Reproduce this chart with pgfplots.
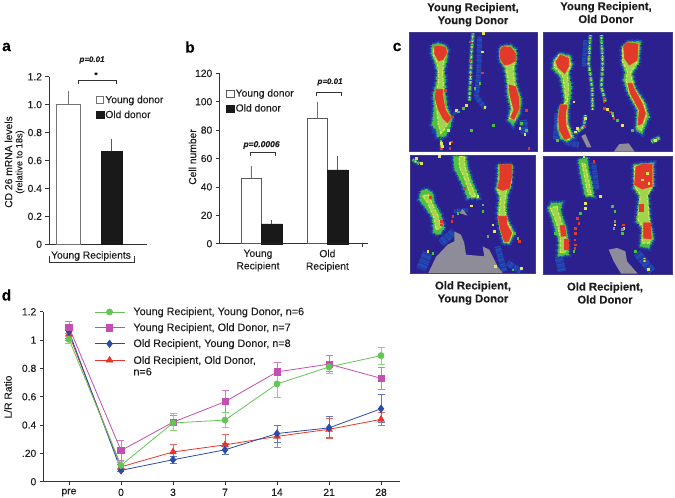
\documentclass[border=0pt]{standalone}
\usepackage{pgfplots}
\usepackage{pgfplotstable}
\pgfplotsset{compat=1.18}
\usepackage{fontspec}
\setmainfont{Liberation Sans}[FakeBold=0.2]
\definecolor{axc}{HTML}{333333}
\definecolor{txt}{HTML}{1E1E1E}
\definecolor{bg}{HTML}{2C1F8E}
\definecolor{blu}{HTML}{1F50B8}
\definecolor{grn}{HTML}{4CC040}
\definecolor{yel}{HTML}{E2E45A}
\definecolor{hot}{HTML}{E23A2A}
\definecolor{gry}{HTML}{8E8C98}
\definecolor{cg}{HTML}{63C654}
\definecolor{cp}{HTML}{C24FB2}
\definecolor{cb}{HTML}{2A4BA8}
\definecolor{cr}{HTML}{E8352B}
\pgfplotstableread{
x y p m
0 1.005 0.03 0.03
1 0.115 0.03 0.03
2 0.415 0.065 0.055
3 0.435 0.055 0.055
4 0.69 0.09 0.095
5 0.81 0.04 0.045
6 0.89 0.06 0.06
}\tg
\pgfplotstableread{
x y p m
0 1.09 0.045 0.045
1 0.22 0.07 0.07
2 0.42 0.05 0.06
3 0.565 0.08 0.075
4 0.775 0.07 0.075
5 0.83 0.065 0.05
6 0.73 0.075 0.08
}\tp
\pgfplotstableread{
x y p m
0 1.06 0.05 0.05
1 0.08 0.06 0.01
2 0.155 0.025 0.025
3 0.225 0.045 0.035
4 0.34 0.06 0.06
5 0.38 0.08 0.07
6 0.515 0.10 0.095
}\tb
\pgfplotstableread{
x y p m
0 1.04 0.04 0.04
1 0.105 0.015 0.015
2 0.21 0.055 0.05
3 0.26 0.075 0.07
4 0.32 0.08 0.08
5 0.37 0.075 0.065
6 0.44 0.05 0.04
}\tr
\pgfplotsset{
 common/.style={scale only axis, axis x line=bottom, axis y line=left,
  axis line style={-,axc,line width=0.7pt}, tick style={axc,line width=0.6pt},
  major tick length=3.5pt, tick align=outside,
  tick label style={font=\fontsize{10.3}{12.5}\selectfont,text=txt},
  clip=false},
 heat/.style={scale only axis, ticks=none, y dir=reverse,
  axis line style={draw=bg!70!gray,line width=0.5pt},
  axis background/.style={fill=bg}, xlabel={}, ylabel={}},
 barleg/.style={legend cell align=left,
  legend style={draw=none,fill=none,font=\fontsize{10.3}{12}\selectfont,row sep=3.5pt,inner sep=0pt,
   nodes={text=txt,inner sep=1.2pt}},
  legend image code/.code={\draw[##1,bar width=0pt] (0pt,-3.5pt) rectangle (7.5pt,3.5pt);}},
 dleg/.style={legend image code/.code={\draw[mark repeat=2,mark phase=2,##1] plot coordinates {(0pt,0pt) (15pt,0pt) (30pt,0pt)};}},
}
\tikzset{
 dA/.style={dash pattern=on 1.1pt off 0.7pt on 2.4pt off 1.3pt on 0.8pt off 0.5pt on 1.7pt off 2.1pt},
 dB/.style={dash pattern=on 2.2pt off 0.6pt on 1.2pt off 0.4pt on 3.1pt off 0.9pt},
 dC/.style={dash pattern=on 0.9pt off 1.6pt on 1.8pt off 0.7pt on 0.6pt off 2.2pt on 1.3pt off 1pt},
}
\newcommand\ser[4]{%
 \addplot[#2,line width=0.8pt,mark=#3,mark size=#4,mark options={fill=#2,solid},
  error bars/.cd,y dir=both,y explicit,error bar style={#2!75!white,line width=0.8pt},
  error mark options={#2!75!white,mark size=3.5pt,line width=0.8pt,rotate=90}]
  table[x=x,y=y,y error plus=p,y error minus=m] {#1};}
% one stroke: colour, width (px), dash style, centre-line
\newcommand\lay[4]{\addplot[#1,line width=#2pt,#3,line join=round] coordinates {#4};}
\newcommand\W[2]{\the\numexpr#1+#2\relax}
% outlines: green region with its blue halo, yellow core, red core
\newcommand\Out[1]{%
 \addplot[draw=blu!60!bg,line width=6pt,dC] coordinates {#1} --cycle;
 \addplot[draw=blu,line width=3.5pt,dA] coordinates {#1} --cycle;
 \addplot[fill=grn,draw=grn,line width=1.4pt,dC] coordinates {#1} --cycle;}
\newcommand\In[1]{%
 \addplot[fill=yel!55!grn,draw=yel,line width=1.2pt,dA] coordinates {#1} --cycle;}
\newcommand\Red[1]{%
 \addplot[draw=yel!55!hot,line width=1.4pt,dB] coordinates {#1} --cycle;
 \addplot[fill=hot,draw=hot,line width=0.6pt] coordinates {#1} --cycle;}
\newcommand\Cool[2]{%
 \lay{blu!70!bg}{\W{#1}{3}}{dB}{#2}\lay{grn}{\W{#1}{1}}{dA}{#2}\lay{yel}{1}{dC}{#2}}
\newcommand\Blue[2]{\lay{blu!45!bg}{#1}{solid}{#2}\lay{blu}{#1}{dC}{#2}}
\newcommand\Spk[2]{\addplot[only marks,mark=square*,mark size=0.8pt,mark options={#1,draw=#1}] coordinates {#2};}
\newcommand\Grey[1]{\addplot[fill=gry,draw=none] coordinates {#1} --cycle;}
\newcommand\hh[1]{\fontsize{#1}{#1}\selectfont}
\begin{document}
\begin{tikzpicture}
\useasboundingbox (0,0) rectangle (675pt,-498pt);
% ---- a
\begin{axis}[common,at={(49pt,-244.3pt)},anchor=south west,width=98pt,height=167.6pt,
 xmin=-0.441,xmax=1.81,ymin=0,ymax=1.2,xtick=\empty,ytick={0,0.2,0.4,0.6,0.8,1,1.2},
 yticklabels={0,0.2,0.4,0.6,0.8,1.0,1.2},barleg,
 legend style={at={(0.475,0.895)},anchor=north west}]
\addplot[ybar,bar width=24pt,bar shift=0pt,fill=white,draw=gray!90!black,line width=0.9pt,
 error bars/.cd,y dir=plus,y explicit,error mark=none,error bar style={gray!90!black,line width=0.9pt}]
 coordinates {(0,1.0) +- (0,0.1)};
\addlegendentry{Young donor}
\addplot[ybar,bar width=21pt,bar shift=0pt,fill=black!90,draw=black!90,
 error bars/.cd,y dir=plus,y explicit,error mark=none,error bar style={black!65,line width=0.8pt}]
 coordinates {(1,0.67) +- (0,0.085)};
\addlegendentry{Old donor}
\end{axis}
% ---- b
\begin{axis}[common,at={(219.3pt,-243.7pt)},anchor=south west,width=148.4pt,height=170.4pt,
 xmin=-0.635,xmax=1.61,ymin=0,ymax=120,xtick={-0.05,1},
 xticklabels={Young\\Recipient,Old\\Recipient},x tick label style={align=center,yshift=1pt},
 x tick style={draw=none},ytick={0,20,40,60,80,100,120},
 yticklabels={0,20,40,60,80,100,120},barleg,
 legend style={at={(0.045,0.915)},anchor=north west}]
\addplot[ybar,bar width=20pt,bar shift=0pt,fill=white,draw=gray!70!black,line width=0.8pt,
 error bars/.cd,y dir=plus,y explicit,error mark=none,error bar style={gray!90!black,line width=0.8pt}]
 coordinates {(-0.156,46) +- (0,9) (0.844,88) +- (0,12)};
\addlegendentry{Young donor}
\addplot[ybar,bar width=21pt,bar shift=0pt,fill=black!90,draw=black!90,
 error bars/.cd,y dir=plus,y explicit,error mark=none,error bar style={black!65,line width=0.7pt}]
 coordinates {(0.156,14) +- (0,3) (1.156,52) +- (0,10)};
\addlegendentry{Old donor}
\end{axis}
\draw[axc,line width=0.6pt] (362.7pt,-243.7pt) -- (362.7pt,-247pt);
% ---- d
\begin{axis}[common,dleg,at={(43.3pt,-481.7pt)},anchor=south west,width=356.7pt,height=170pt,
 xmin=-0.494,xmax=6.365,ymin=0,ymax=1.2,xtick={0,...,6},xticklabels={pre,0,3,7,14,21,28},
 ytick={0,0.2,0.4,0.6,0.8,1,1.2},yticklabels={0,.20,0.4,0.6,0.8,1,1.2},
 reverse legend,legend cell align=left,
 legend style={draw=none,fill=none,at={(0.142,1.03)},anchor=north west,font=\fontsize{10.8}{12.5}\selectfont,
  row sep=5.6pt,inner sep=0pt,nodes={text=txt,inner sep=0.5pt},
  /tikz/every odd column/.append style={column sep=8pt}}]
\ser{\tr}{cr}{triangle*}{3.7pt}
\addlegendentry{\begin{tabular}[t]{@{}l@{}}Old Recipient, Old Donor,\\[-1pt]n=6\end{tabular}}
\ser{\tb}{cb}{diamond*}{3.6pt}
\addlegendentry{Old Recipient, Young Donor, n=8}
\ser{\tp}{cp}{square*}{3.1pt}
\addlegendentry{Young Recipient, Old Donor, n=7}
\ser{\tg}{cg}{*}{3pt}
\addlegendentry{Young Recipient, Young Donor, n=6}
\end{axis}
% ---- c1
\begin{axis}[heat,at={(409.7pt,-32.7pt)},anchor=north west,width=127.7pt,height=119pt,xmin=5,xmax=388,ymin=8,ymax=365]
\Blue{5}{(215,20)(212,130)(205,200)(232,235)}
\Blue{3}{(150,240)(135,255)}
\Blue{8}{(345,270)(350,310)}
\Blue{6}{(85,270)(80,310)}
\Cool{2}{(195,10)(190,70)(187,150)(184,212)}
\Cool{1}{(100,325)(100,360)}
\Out{(72,45)(70,70)(80,95)(88,125)(85,160)(75,195)(78,230)(75,265)(72,285)(85,300)(88,320)(110,320)(125,295)(132,265)(118,235)(112,190)(112,150)(108,120)(115,95)(120,60)(110,45)(90,40)}
\In{(76,55)(76,75)(88,100)(92,130)(90,165)(82,190)(84,225)(88,255)(90,280)(98,310)(108,300)(122,275)(122,255)(108,225)(106,170)(104,125)(108,90)(116,65)(105,48)}
\Red{(80,50)(80,72)(92,92)(105,88)(116,68)(112,52)(95,48)}
\Red{(84,178)(82,205)(90,235)(105,265)(118,278)(128,265)(112,240)(105,205)(104,178)}
\Out{(275,55)(275,90)(290,115)(297,160)(298,195)(308,235)(300,270)(315,285)(335,250)(340,210)(325,165)(320,110)(325,95)(325,60)(305,45)(285,48)}
\In{(278,60)(278,88)(294,110)(300,155)(303,190)(312,235)(305,265)(320,270)(332,235)(332,205)(320,165)(315,115)(320,95)(320,62)(300,50)}
\Red{(276,60)(276,85)(290,105)(305,102)(322,92)(322,70)(308,52)(285,50)}
\Red{(303,165)(306,195)(318,240)(308,262)(318,268)(333,235)(332,205)(322,170)}
\Spk{hot}{(185,35)(185,90)(222,128)(100,355)(125,355)(130,335)(132,260)(355,240)(362,355)(112,180)}
\Spk{yel}{(225,10)(222,65)(230,232)(175,225)(335,295)(350,312)(120,300)(125,340)(145,240)(100,340)(103,348)}
\Spk{grn}{(150,245)(255,285)(190,300)(215,160)(200,175)(340,280)(355,300)(165,235)}
\end{axis}
% ---- c2
\begin{axis}[heat,at={(543.7pt,-32.7pt)},anchor=north west,width=129pt,height=119pt,xmin=5,xmax=392,ymin=8,ymax=365]
\Blue{6}{(70,335)(110,345)}
\Blue{4}{(130,30)(125,110)}
\Blue{5}{(45,250)(40,330)}
\Cool{2}{(145,15)(140,100)(150,170)(152,240)}
\Cool{2}{(178,15)(182,100)(178,170)(190,215)}
\Out{(35,90)(32,115)(55,140)(62,175)(68,215)(50,240)(45,290)(55,325)(75,335)(95,322)(78,280)(78,240)(85,205)(88,170)(80,130)(90,105)(85,78)(55,70)}
\In{(38,95)(38,112)(62,138)(68,180)(72,215)(54,240)(50,290)(60,320)(80,328)(88,318)(74,280)(74,235)(80,180)(76,130)(86,105)(80,82)(50,75)}
\Red{(42,95)(48,112)(68,130)(80,108)(80,85)(55,75)}
\Red{(55,225)(50,260)(52,300)(68,328)(85,322)(72,290)(70,250)(75,225)}
\Out{(240,50)(240,100)(250,125)(245,150)(258,190)(285,240)(282,300)(300,310)(320,260)(310,220)(280,175)(270,130)(290,100)(295,35)(260,35)}
\In{(242,55)(242,95)(256,125)(252,150)(262,190)(290,240)(286,295)(298,300)(314,255)(305,220)(276,175)(265,130)(285,98)(290,40)(262,40)}
\Red{(245,50)(248,85)(262,105)(285,90)(288,42)(255,38)}
\Red{(258,160)(265,190)(292,240)(288,285)(300,280)(310,250)(300,220)(275,175)(270,160)}
\Cool{2}{(130,255)(125,290)(100,310)}
\Cool{3}{(328,335)(355,322)}
\Grey{(215,365)(232,342)(260,340)(278,365)}
\Grey{(118,318)(130,312)(140,335)(148,352)(135,352)}
\Spk{hot}{(185,205)(187,235)(205,245)(215,265)(128,290)(100,308)(185,215)}
\Spk{yel}{(95,215)(195,238)(212,255)(240,285)(130,265)(105,295)(100,305)(340,330)}
\Spk{grn}{(225,270)(210,250)(320,260)(270,300)(45,330)}
\end{axis}
% ---- c3
\begin{axis}[heat,at={(410.3pt,-155.7pt)},anchor=north west,width=125.3pt,height=117.3pt,xmin=8,xmax=384,ymin=8,ymax=360]
\Blue{10}{(60,300)(40,350)}
\Blue{8}{(100,270)(140,235)}
\Blue{6}{(270,280)(290,355)}
\Blue{6}{(300,330)(340,355)}
\Blue{5}{(170,320)(230,325)}
\Blue{4}{(140,175)(180,170)}
\Grey{(62,360)(85,312)(120,275)(140,265)(140,235)(160,245)(170,270)(175,305)(230,310)(225,280)(245,290)(270,340)(285,360)}
\Grey{(155,180)(165,168)(180,188)}
\Out{(272,35)(270,85)(265,110)(275,130)(270,180)(275,220)(288,270)(305,272)(320,240)(300,200)(295,170)(300,125)(310,100)(315,35)}
\In{(275,38)(274,95)(270,110)(280,130)(274,180)(280,220)(290,265)(303,268)(315,240)(296,200)(290,160)(296,115)(312,85)(312,38)}
\Red{(277,35)(277,80)(270,105)(285,112)(305,105)(312,70)(312,35)}
\Red{(272,190)(278,225)(290,265)(302,265)(312,240)(298,215)(296,190)}
\Out{(40,115)(35,140)(55,165)(75,195)(78,240)(95,245)(110,225)(100,185)(80,150)(75,120)(55,108)}
\In{(45,128)(60,150)(80,195)(85,230)(100,225)(92,190)(75,155)(62,125)}
\Out{(138,10)(140,45)(160,85)(180,135)(215,135)(195,90)(180,45)(175,10)}
\In{(155,10)(155,40)(172,80)(190,130)(205,130)(185,85)(172,40)(170,10)}
\Cool{2}{(15,20)(35,32)}
\Spk{hot}{(68,133)(100,205)(100,215)(135,190)(132,205)(170,105)(335,265)}
\Spk{yel}{(95,10)(210,130)(255,215)(260,235)(340,345)(60,295)(262,340)(190,158)(25,15)(40,30)}
\Spk{grn}{(150,180)(225,175)(240,250)(320,240)(330,255)(75,300)(315,350)(225,155)}
\end{axis}
% ---- c4
\begin{axis}[heat,at={(543pt,-156.3pt)},anchor=north west,width=129.7pt,height=118.3pt,xmin=3,xmax=392,ymin=10,ymax=365]
\Blue{8}{(50,310)(60,355)}
\Blue{8}{(285,300)(330,355)}
\Blue{5}{(155,30)(165,110)}
\Grey{(200,290)(225,285)(250,295)(255,325)(287,362)(237,362)(215,325)}
\Out{(275,35)(275,105)(292,130)(283,205)(300,225)(295,280)(320,285)(335,255)(325,210)(320,150)(318,125)(335,100)(335,30)}
\In{(278,40)(278,100)(295,125)(288,200)(303,225)(300,270)(320,272)(330,255)(322,205)(316,130)(332,95)(330,35)}
\Red{(282,42)(278,95)(300,108)(330,100)(330,35)(305,32)}
\Red{(305,210)(305,255)(328,258)(325,210)}
\Red{(292,155)(292,175)(305,175)(305,155)}
\Out{(18,165)(30,195)(40,230)(50,260)(48,310)(80,305)(78,260)(72,225)(55,175)(60,150)(30,150)}
\In{(25,165)(38,195)(48,225)(55,255)(55,300)(72,298)(70,255)(62,220)(48,175)(45,160)}
\Red{(55,218)(58,250)(72,248)(68,218)}
\Red{(68,258)(68,290)(78,290)(78,258)}
\Out{(110,20)(115,60)(130,130)(155,130)(150,90)(140,55)(135,15)}
\In{(120,30)(125,60)(138,125)(148,125)(140,80)(130,35)}
\Cool{2}{(308,315)(308,330)}
\Spk{hot}{(105,195)(110,210)(100,225)(100,240)(98,260)(100,275)(98,285)(155,25)(243,215)}
\Spk{yel}{(175,130)(130,150)(130,165)(245,225)(218,215)(318,348)(125,10)(300,80)(315,60)(320,90)}
\Spk{grn}{(210,160)(218,175)(240,240)(40,240)(280,295)(95,295)(115,180)}
\Spk{gry}{(218,205)(215,225)(240,228)}
\end{axis}
% annotations
\begin{scope}[font=\hh{15.5}\bfseries,text=black]
\node at (6.5pt,-47pt) {a};
\node at (190pt,-47pt) {b};
\node at (397pt,-47pt) {c};
\node at (6.5pt,-295pt) {d};
\end{scope}
\begin{scope}[font=\hh{10.3},text=txt]
\node[rotate=90] at (8.5pt,-162pt) {CD 26 mRNA levels};
\node[rotate=90,font=\hh{9.2}] at (20pt,-162pt) {(relative to 18s)};
\node[rotate=90] at (192.5pt,-157pt) {Cell number};
\node[rotate=90] at (8pt,-397pt) {L/R Ratio};
\node at (91pt,-256pt) {Young Recipients};
\node[font=\hh{8}\itshape\bfseries] at (92pt,-60pt) {p=0.01};
\node[font=\hh{8}\bfseries] at (96pt,-75pt) {*};
\node[font=\hh{8.5}\itshape\bfseries] at (261.5pt,-145pt) {p=0.0006};
\node[font=\hh{8}\itshape\bfseries] at (330pt,-82pt) {p=0.01};
\end{scope}
\begin{scope}[axc,line width=0.6pt]
\draw (78.3pt,-84.3pt) -- (78.3pt,-80.3pt) -- (116pt,-80.3pt) -- (116pt,-84.3pt);
\draw (49pt,-256pt) -- (49pt,-262pt) -- (134pt,-262pt) -- (134pt,-256pt);
\draw (250pt,-156pt) -- (250pt,-152pt) -- (275pt,-152pt) -- (275pt,-156pt);
\draw (316.5pt,-96pt) -- (316.5pt,-92.5pt) -- (341.5pt,-92.5pt) -- (341.5pt,-96pt);
\end{scope}
\begin{scope}[font=\fontsize{11.3}{13}\selectfont\bfseries,text=txt,align=center]
\node at (473pt,-14.7pt) {Young Recipient,\\Young Donor};
\node at (606pt,-12.5pt) {Young Recipient,\\Old Donor};
\node at (473pt,-293pt) {Old Recipient,\\Young Donor};
\node at (605pt,-293pt) {Old Recipient,\\Old Donor};
\end{scope}
\end{tikzpicture}
\end{document}
